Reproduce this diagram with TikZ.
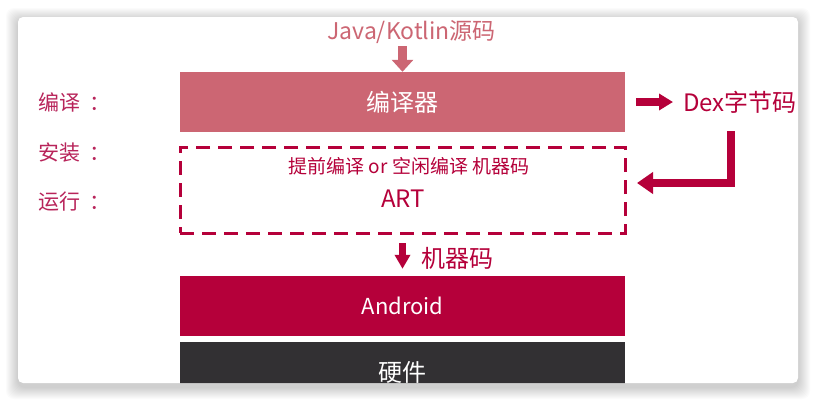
\documentclass[tikz,border=0pt]{standalone}
\usepackage{fontspec}
\setmainfont{Noto Sans CJK SC}
\usetikzlibrary{arrows.meta}
\definecolor{crim}{HTML}{B5003A}
\definecolor{pinkc}{HTML}{CC6673}
\definecolor{darkc}{HTML}{323033}
\definecolor{labc}{HTML}{B8245A}
\newcommand{\fs}[1]{\fontsize{#1}{#1}\selectfont}
\begin{document}
\begin{tikzpicture}[x=1pt,y=-1pt,
  layerbox/.style={minimum width=445pt,minimum height=60pt,inner sep=0pt,draw=none,text=white},
  lbl/.style={anchor=west,inner sep=0pt,text=labc,font=\fs{21}},
  fatarrow/.style={line width=8pt,draw=crim},
]
\useasboundingbox (0,0) rectangle (816,402);
\fill[white] (0,0) rectangle (816,402);
\foreach \i in {1,...,12}{
  \fill[black,opacity=0.016,rounded corners=8pt] (18-\i,17-\i+3) rectangle (798+\i,383+\i+4);
}
\fill[white,rounded corners=5pt] (18,17) rectangle (798,383);
\begin{scope}
\clip[rounded corners=5pt] (18,17) rectangle (798,383);
% boxes
\node[layerbox,fill=pinkc,font=\fs{24}] (comp) at (402.5,102) {编译器};
\node[minimum width=445pt,minimum height=86pt,inner sep=0pt,draw=crim,line width=3pt,
      dash pattern=on 14pt off 8pt] (dbox) at (402.5,190) {};
\node[inner sep=0pt,text=crim,font=\fs{19}] (aot) at (409,166) {提前编译 or 空闲编译 机器码};
\node[inner sep=0pt,text=crim,font=\fs{24}] (art) at (403,199) {ART};
\node[layerbox,fill=crim,font=\fs{22}] (andr) at (402.5,306) {Android};
\node[layerbox,fill=darkc,font=\fs{24}] (hw) at (402.5,372) {硬件};
% texts
\node[inner sep=0pt,text=pinkc,font=\fs{23}] (java) at (411.5,32) {Java/Kotlin源码};
\node[anchor=west,inner sep=0pt,text=crim,font=\fs{24}] (dex) at (683,102) {Dex字节码};
\node[anchor=west,inner sep=0pt,text=crim,font=\fs{24}] (mc) at (421,258) {机器码};
\node[lbl] (l1) at (38,102.5) {编译\hspace{9pt}：};
\node[lbl] (l2) at (38,153) {安装\hspace{9pt}：};
\node[lbl] (l3) at (38,202) {运行\hspace{9pt}：};
% arrows
\coordinate (jtop) at (402.5,46);
\draw[line width=9pt,draw=pinkc,-{Triangle[width=21pt,length=12pt]}] (jtop) -- (comp.north);
\draw[fatarrow,-{Triangle[width=16pt,length=14pt]},shorten <=11pt,shorten >=10pt] (comp.east) -- (dex.west);
\coordinate (ebot) at (731,131);
\coordinate (etip) at (637,183);
\draw[fatarrow,-{Triangle[width=21pt,length=16pt]}] (ebot) |- (etip);
\coordinate (mtop) at (402.5,243);
\draw[line width=7pt,draw=crim,-{Triangle[width=15pt,length=14pt]},shorten >=7pt] (mtop) -- (andr.north);
\end{scope}
\end{tikzpicture}
\end{document}
